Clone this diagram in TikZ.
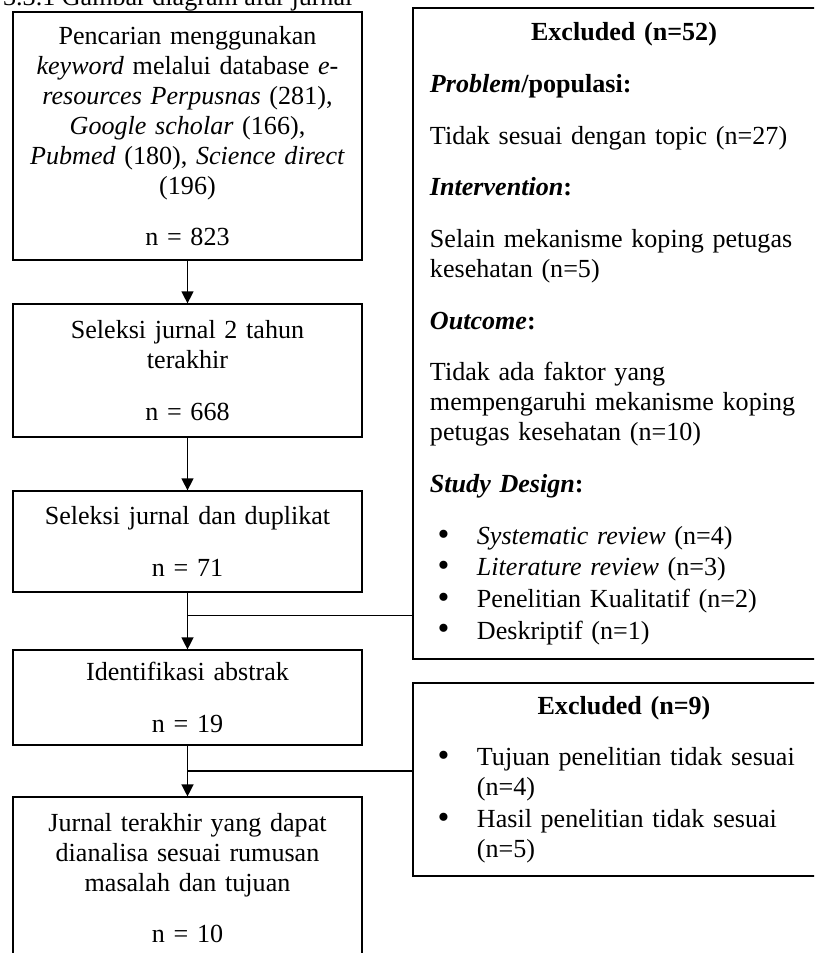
\documentclass[tikz,border=0pt]{standalone}
\usepackage{fontspec}
\setmainfont{Liberation Serif}
\usetikzlibrary{arrows.meta}

\newcommand{\bitem}{\hspace*{3.5pt}\makebox[18.1pt][l]{\raisebox{-0.4pt}{\scalebox{1.3}{\textbullet}}}}
\newcommand{\bcont}{\hspace*{21.6pt}}

\begin{document}
\begin{tikzpicture}[x=0.46pt, y=-0.46pt,
        font=\fontsize{12}{13.8}\selectfont,
        flowbox/.style={draw, line width=0.55pt, text width=155pt,
            inner xsep=2.75pt, align=center},
        exclbox/.style={draw, line width=0.55pt, text width=178.5pt,
            inner xsep=7.8pt, align=left},
        flowarrow/.style={line width=0.6pt,
            -{Triangle[length=5.5pt, width=5.5pt]}}]

            \useasboundingbox (0, 0) rectangle (814, 953);
            \clip (0, 0) rectangle (814, 953);

            \node [anchor=base east] (title) at (360, 5.5)
                {3.3.1 Gambar diagram alur jurnal};

            \node [flowbox, minimum height=114.1pt] (search) at (187.5, 136)
                {Pencarian menggunakan\\
                 \textit{keyword} melalui database \textit{e-}\\
                 \textit{resources Perpusnas} (281),\\
                 \textit{Google scholar} (166),\\
                 \textit{Pubmed} (180), \textit{Science direct}\\
                 (196)\\[10pt]
                 n = 823};
            \node [flowbox, minimum height=61.2pt] (twoyear) at (187.5, 370.5)
                {Seleksi jurnal 2 tahun\\
                 terakhir\\[10pt]
                 n = 668};
            \node [flowbox, minimum height=46.5pt] (dedup) at (187.5, 541.5)
                {Seleksi jurnal dan duplikat\\[10pt]
                 n = 71};
            \node [flowbox, minimum height=43.7pt] (abstract) at (187.5, 697.5)
                {Identifikasi abstrak\\[10pt]
                 n = 19};
            \node [flowbox, minimum height=74.5pt] (final) at (187.5, 878)
                {Jurnal terakhir yang dapat\\
                 dianalisa sesuai rumusan\\
                 masalah dan tujuan\\[10pt]
                 n = 10};

            \node [exclbox, minimum height=299.5pt] (excl52) at (624, 333.5)
                {\makebox[\linewidth]{\textbf{Excluded (n=52)}}\\[10pt]
                 \textbf{\textit{Problem}/populasi:}\\[10pt]
                 Tidak sesuai dengan topic (n=27)\\[10pt]
                 \textbf{\textit{Intervention}:}\\[10pt]
                 Selain mekanisme koping petugas\\
                 kesehatan (n=5)\\[10pt]
                 \textbf{\textit{Outcome}:}\\[10pt]
                 Tidak ada faktor yang\\
                 mempengaruhi mekanisme koping\\
                 petugas kesehatan (n=10)\\[10pt]
                 \textbf{\textit{Study Design}:}\\[10pt]
                 \bitem\textit{Systematic review} (n=4)\\[0.7pt]
                 \bitem\textit{Literature review} (n=3)\\[0.7pt]
                 \bitem Penelitian Kualitatif (n=2)\\[0.7pt]
                 \bitem Deskriptif (n=1)};
            \node [exclbox, minimum height=88.8pt] (excl9) at (624, 779.5)
                {\makebox[\linewidth]{\textbf{Excluded (n=9)}}\\[10pt]
                 \bitem Tujuan penelitian tidak sesuai\\
                 \bcont(n=4)\\[0.7pt]
                 \bitem Hasil penelitian tidak sesuai\\
                 \bcont(n=5)};

            \draw [flowarrow] (search) -- (twoyear);
            \draw [flowarrow] (twoyear) -- (dedup);
            \draw [flowarrow] (dedup) -- (abstract);
            \draw [flowarrow] (abstract) -- (final);

            \path (dedup.south) -- (abstract.north) coordinate [pos=0.4] (j1);
            \path (abstract.south) -- (final.north) coordinate [pos=0.5] (j2);
            \draw [line width=0.55pt] (j1) -- (j1 -| excl52.west);
            \draw [line width=0.55pt] (j2) -- (j2 -| excl9.west);

        \end{tikzpicture}
\end{document}
